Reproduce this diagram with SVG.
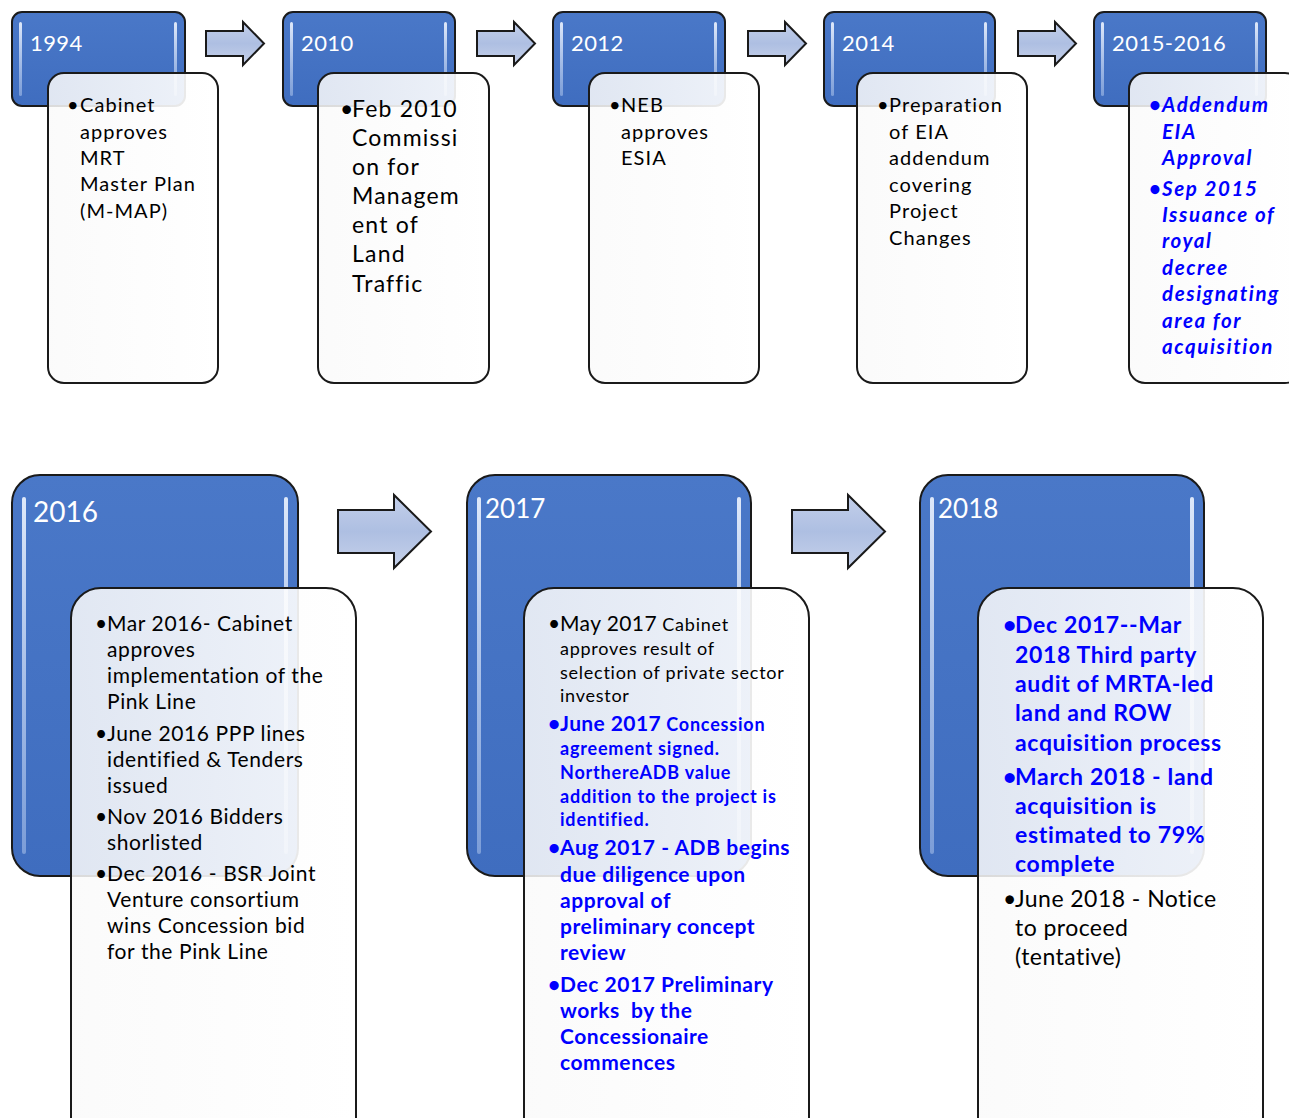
<svg xmlns="http://www.w3.org/2000/svg" width="1289" height="1118" viewBox="0 0 1289 1118">
<style>
.blue{fill:url(#gBlue);stroke:#1a1a1a;stroke-width:2}
.hl{fill:url(#gHl)}
.card{fill:url(#gCard);stroke:#1a1a1a;stroke-width:2}
.arr{fill:url(#gArr);stroke:#1a1a1a;stroke-width:2;stroke-linejoin:miter}
.yr{font-family:Lato,"Liberation Sans",sans-serif;fill:#ffffff}
.t{font-family:Lato,"Liberation Sans",sans-serif;fill:#000000}
.bl{fill:#0000ff;font-weight:bold}
.bi{fill:#0000ff;font-weight:bold;font-style:italic}
</style>
<defs>
<linearGradient id="gBlue" x1="0" y1="0" x2="0" y2="1">
<stop offset="0" stop-color="#4a78c8"/>
<stop offset="1" stop-color="#3f6dbf"/>
</linearGradient>
<linearGradient id="gHl" x1="0" y1="0" x2="0" y2="1">
<stop offset="0" stop-color="#e6eefc" stop-opacity="0.95"/>
<stop offset="1" stop-color="#b8cdf0" stop-opacity="0.5"/>
</linearGradient>
<linearGradient id="gCard" x1="0" y1="0" x2="1" y2="0">
<stop offset="0" stop-color="#fafafa" stop-opacity="0.86"/>
<stop offset="1" stop-color="#ffffff" stop-opacity="0.92"/>
</linearGradient>
<linearGradient id="gArr" x1="0" y1="0" x2="0" y2="1">
<stop offset="0" stop-color="#c3cfea"/>
<stop offset="0.5" stop-color="#aebfe2"/>
<stop offset="1" stop-color="#c6d1ea"/>
</linearGradient>
</defs>

<g id="connectors">
<path class="arr" d="M206,31 H243 V22 L264,43.5 L243,65 V56 H206 Z"/>
<path class="arr" d="M477,31 H514 V22 L535,43.5 L514,65 V56 H477 Z"/>
<path class="arr" d="M748,31 H785 V22 L806,43.5 L785,65 V56 H748 Z"/>
<path class="arr" d="M1018,31 H1055 V22 L1076,43.5 L1055,65 V56 H1018 Z"/>
<path class="arr" d="M338,510 H394 V495 L431,531.5 L394,568 V553 H338 Z"/>
<path class="arr" d="M792,510 H848 V495 L885,531.5 L848,568 V553 H792 Z"/>
</g>

<g id="node-1994">
<rect class="blue" x="12" y="12" width="173" height="94" rx="10"/>
<rect class="hl" x="19" y="22" width="3" height="74" rx="1.5"/>
<rect class="hl" x="174" y="22" width="3" height="74" rx="1.5"/>
<text class="yr" x="30" y="51" font-size="22" letter-spacing="0.4">1994</text>
<rect class="card" x="48" y="73" width="170" height="310" rx="16"/>
<text class="t" font-size="20" letter-spacing="1.05"><tspan x="67" y="112">•</tspan><tspan x="80" y="112">Cabinet</tspan><tspan x="80" y="139">approves</tspan><tspan x="80" y="165">MRT</tspan><tspan x="80" y="191">Master Plan</tspan><tspan x="80" y="218">(M-MAP)</tspan></text>
</g>

<g id="node-2010">
<rect class="blue" x="283" y="12" width="172" height="94" rx="10"/>
<rect class="hl" x="290" y="22" width="3" height="74" rx="1.5"/>
<rect class="hl" x="444" y="22" width="3" height="74" rx="1.5"/>
<text class="yr" x="301" y="51" font-size="22" letter-spacing="0.4">2010</text>
<rect class="card" x="318" y="73" width="171" height="310" rx="16"/>
<text class="t" font-size="23" letter-spacing="1.2"><tspan x="340" y="117">•</tspan><tspan x="352" y="117">Feb 2010</tspan><tspan x="352" y="146">Commissi</tspan><tspan x="352" y="175">on for</tspan><tspan x="352" y="204">Managem</tspan><tspan x="352" y="233">ent of</tspan><tspan x="352" y="262">Land</tspan><tspan x="352" y="292">Traffic</tspan></text>
</g>

<g id="node-2012">
<rect class="blue" x="553" y="12" width="172" height="94" rx="10"/>
<rect class="hl" x="560" y="22" width="3" height="74" rx="1.5"/>
<rect class="hl" x="714" y="22" width="3" height="74" rx="1.5"/>
<text class="yr" x="571" y="51" font-size="22" letter-spacing="0.4">2012</text>
<rect class="card" x="589" y="73" width="170" height="310" rx="16"/>
<text class="t" font-size="20" letter-spacing="1.05"><tspan x="609" y="112">•</tspan><tspan x="621" y="112">NEB</tspan><tspan x="621" y="139">approves</tspan><tspan x="621" y="165">ESIA</tspan></text>
</g>

<g id="node-2014">
<rect class="blue" x="824" y="12" width="171" height="94" rx="10"/>
<rect class="hl" x="831" y="22" width="3" height="74" rx="1.5"/>
<rect class="hl" x="984" y="22" width="3" height="74" rx="1.5"/>
<text class="yr" x="842" y="51" font-size="22" letter-spacing="0.4">2014</text>
<rect class="card" x="857" y="73" width="170" height="310" rx="16"/>
<text class="t" font-size="20" letter-spacing="1.1"><tspan x="877" y="112">•</tspan><tspan x="889" y="112">Preparation</tspan><tspan x="889" y="139">of EIA</tspan><tspan x="889" y="165">addendum</tspan><tspan x="889" y="192">covering</tspan><tspan x="889" y="218">Project</tspan><tspan x="889" y="245">Changes</tspan></text>
</g>

<g id="node-2015-2016">
<rect class="blue" x="1094" y="12" width="172" height="94" rx="10"/>
<rect class="hl" x="1101" y="22" width="3" height="74" rx="1.5"/>
<rect class="hl" x="1255" y="22" width="3" height="74" rx="1.5"/>
<text class="yr" x="1112" y="51" font-size="22" letter-spacing="0.45">2015-2016</text>
<rect class="card" x="1129" y="73" width="172" height="310" rx="16"/>
<text class="t bi" font-size="20.5" letter-spacing="1.6"><tspan x="1149" y="112">•</tspan><tspan x="1162" y="112">Addendum</tspan><tspan x="1162" y="139">EIA</tspan><tspan x="1162" y="165">Approval</tspan><tspan x="1149" y="196">•</tspan><tspan x="1162" y="196">Sep 2015</tspan><tspan x="1162" y="222">Issuance of</tspan><tspan x="1162" y="248">royal</tspan><tspan x="1162" y="275">decree</tspan><tspan x="1162" y="301">designating</tspan><tspan x="1162" y="328">area for</tspan><tspan x="1162" y="354">acquisition</tspan></text>
</g>

<g id="node-2016">
<rect class="blue" x="12" y="475" width="286" height="401" rx="28"/>
<rect class="hl" x="22" y="497" width="4" height="357" rx="2"/>
<rect class="hl" x="284" y="497" width="4" height="357" rx="2"/>
<text class="yr" x="33" y="522" font-size="28">2016</text>
<rect class="card" x="71" y="588" width="285" height="560" rx="30"/>
<text class="t" font-size="21" letter-spacing="0.6"><tspan x="95" y="631">•</tspan><tspan x="107" y="631">Mar 2016- Cabinet</tspan><tspan x="107" y="657">approves</tspan><tspan x="107" y="683">implementation of the</tspan><tspan x="107" y="709">Pink Line</tspan><tspan x="95" y="741">•</tspan><tspan x="107" y="741">June 2016 PPP lines</tspan><tspan x="107" y="767">identified &amp; Tenders</tspan><tspan x="107" y="793">issued</tspan><tspan x="95" y="824">•</tspan><tspan x="107" y="824">Nov 2016 Bidders</tspan><tspan x="107" y="850">shorlisted</tspan><tspan x="95" y="881">•</tspan><tspan x="107" y="881">Dec 2016 - BSR Joint</tspan><tspan x="107" y="907">Venture consortium</tspan><tspan x="107" y="933">wins Concession bid</tspan><tspan x="107" y="959">for the Pink Line</tspan></text>
</g>

<g id="node-2017">
<rect class="blue" x="467" y="475" width="284" height="401" rx="28"/>
<rect class="hl" x="477" y="497" width="4" height="357" rx="2"/>
<rect class="hl" x="737" y="497" width="4" height="357" rx="2"/>
<text class="yr" x="485" y="518" font-size="26">2017</text>
<rect class="card" x="524" y="588" width="285" height="560" rx="30"/>
<text class="t" font-size="18" letter-spacing="0.75"><tspan x="548" y="631" font-size="21">•</tspan><tspan x="560" y="631" font-size="21" letter-spacing="0.4">May 2017</tspan><tspan> Cabinet</tspan><tspan x="560" y="655">approves result of</tspan><tspan x="560" y="679">selection of private sector</tspan><tspan x="560" y="702">investor</tspan></text>
<text class="t bl" font-size="18" letter-spacing="0.8"><tspan x="548" y="731" font-size="21">•</tspan><tspan x="560" y="731" font-size="21" letter-spacing="0.4">June 2017</tspan><tspan> Concession</tspan><tspan x="560" y="755">agreement signed.</tspan><tspan x="560" y="779">NorthereADB value</tspan><tspan x="560" y="803">addition to the project is</tspan><tspan x="560" y="826">identified.</tspan></text>
<text class="t bl" font-size="21" letter-spacing="0.55"><tspan x="548" y="855">•</tspan><tspan x="560" y="855">Aug 2017 - ADB begins</tspan><tspan x="560" y="882">due diligence upon</tspan><tspan x="560" y="908">approval of</tspan><tspan x="560" y="934">preliminary concept</tspan><tspan x="560" y="960">review</tspan><tspan x="548" y="992">•</tspan><tspan x="560" y="992">Dec 2017 Preliminary</tspan><tspan x="560" y="1018" xml:space="preserve">works  by the</tspan><tspan x="560" y="1044">Concessionaire</tspan><tspan x="560" y="1070">commences</tspan></text>
</g>

<g id="node-2018">
<rect class="blue" x="920" y="475" width="284" height="401" rx="28"/>
<rect class="hl" x="930" y="497" width="4" height="357" rx="2"/>
<rect class="hl" x="1190" y="497" width="4" height="357" rx="2"/>
<text class="yr" x="938" y="518" font-size="26">2018</text>
<rect class="card" x="978" y="588" width="285" height="560" rx="30"/>
<text class="t bl" font-size="23" letter-spacing="0.65"><tspan x="1003" y="633">•</tspan><tspan x="1015" y="633">Dec 2017--Mar</tspan><tspan x="1015" y="663">2018 Third party</tspan><tspan x="1015" y="692">audit of MRTA-led</tspan><tspan x="1015" y="721">land and ROW</tspan><tspan x="1015" y="751">acquisition process</tspan><tspan x="1003" y="785">•</tspan><tspan x="1015" y="785">March 2018 - land</tspan><tspan x="1015" y="814">acquisition is</tspan><tspan x="1015" y="843">estimated to 79%</tspan><tspan x="1015" y="872">complete</tspan></text>
<text class="t" font-size="23" letter-spacing="0.45"><tspan x="1003" y="907">•</tspan><tspan x="1015" y="907">June 2018 - Notice</tspan><tspan x="1015" y="936">to proceed</tspan><tspan x="1015" y="965">(tentative)</tspan></text>
</g>
</svg>
